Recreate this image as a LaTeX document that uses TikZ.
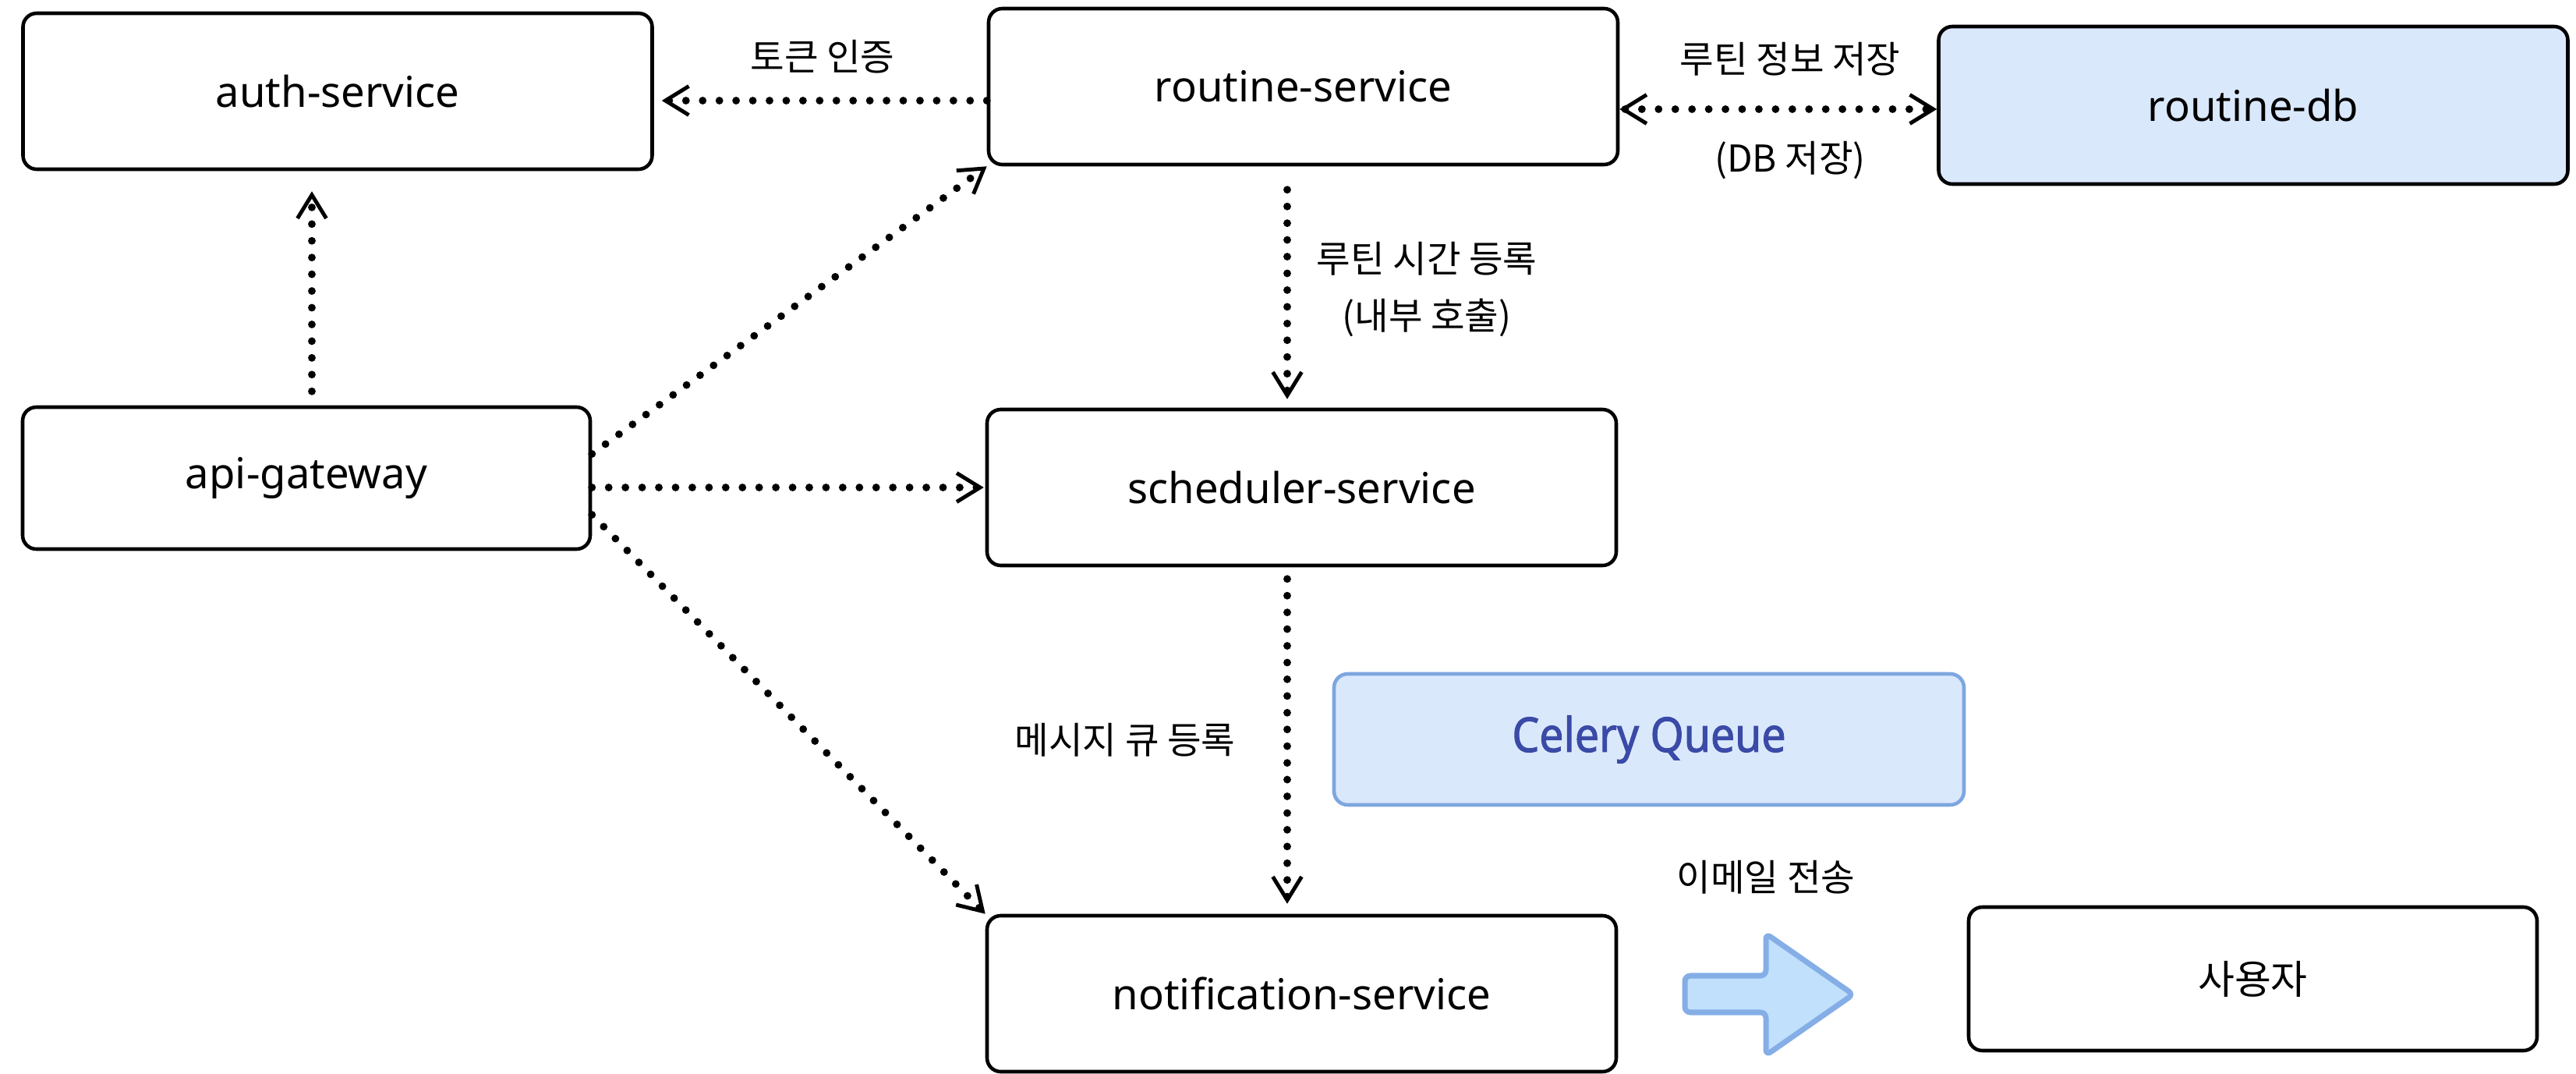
\documentclass[tikz,border=0pt]{standalone}
\usepackage{fontspec}
\setmainfont{Noto Sans}
\newfontfamily\kr{Noto Sans CJK KR}
\newfontfamily\queuefont[FakeStretch=0.9, FakeBold=1.6]{Noto Sans}
\usetikzlibrary{arrows.meta}

\definecolor{boxblue}{HTML}{DAE8FC}
\definecolor{queueline}{HTML}{7EA6E0}
\definecolor{queuetext}{HTML}{3A4AA6}
\definecolor{arrowfill}{HTML}{C0E0FC}
\definecolor{arrowline}{HTML}{85AEE6}

\tikzset{
  barb/.tip={Straight Barb[length=0.3cm,width=0.37cm,line width'=1.4pt]},
  svc/.style={draw=black, line width=1.3pt, rounded corners=5pt, fill=white,
    inner sep=0pt, minimum width=8.07cm, minimum height=2cm,
    font=\fontsize{15.5}{18}\selectfont},
  queuebox/.style={draw=queueline, line width=1.3pt, rounded corners=5pt,
    fill=boxblue, inner sep=0pt, minimum width=8.08cm, minimum height=1.68cm,
    text=queuetext, font=\queuefont\fontsize{17.5}{20}\selectfont},
  lbl/.style={inner sep=0pt, font=\kr\fontsize{13.5}{21}\selectfont},
  dots/.style={line width=2.8pt, line cap=round, dash pattern=on 0pt off 6.1pt},
  flow/.style={dots, -barb},
  flowboth/.style={dots, barb-barb},
}

\begin{document}
\begin{tikzpicture}
\useasboundingbox (0,0) rectangle (33.04,-13.77);

% services
\node[svc] (auth) at (4.33,-1.17) {auth-service};
\node[svc] (routine) at (16.715,-1.11) {routine-service};
\node[svc, fill=boxblue, minimum height=2.02cm] (db) at (28.90,-1.35) {routine-db};
\node[svc, minimum width=7.28cm, minimum height=1.82cm] (api) at (3.93,-6.13) {api-gateway};
\node[svc] (sched) at (16.695,-6.25) {scheduler-service};
\node[queuebox] (queue) at (21.15,-9.48) {Celery Queue};
\node[svc] (notif) at (16.695,-12.74) {notification-service};
\node[svc, minimum width=7.29cm, minimum height=1.84cm,
      font=\kr\fontsize{14.5}{17}\selectfont] (user) at (28.895,-12.55) {사용자};

% connector labels
\node[lbl] (ltoken) at (10.55,-0.73) {토큰 인증};
\node[lbl] (lsave) at (22.96,-0.76) {루틴 정보 저장};
\node[lbl] (ldb) at (22.96,-2.06) {(DB 저장)};
\node[lbl, align=center] (ltime) at (18.30,-3.71) {루틴 시간 등록\\(내부 호출)};
\node[lbl] (lqueue) at (14.43,-9.49) {메시지 큐 등록};
\node[lbl] (lmail) at (22.65,-11.25) {이메일 전송};

% connectors
\draw[flow, shorten >=0.1cm] (routine.west |- 0,-1.29) -- (auth.east |- 0,-1.29);
\draw[flowboth] (routine.east |- 0,-1.40) -- (db.west |- 0,-1.40);
\draw[flow, shorten <=0.18cm, shorten >=0.26cm] (api.north -| 4.0,0) -- (auth.south -| 4.0,0);
\draw[flow] (api.east |- 0,-5.82) -- (routine.south west);
\draw[flow, shorten >=0.02cm] (api.east |- sched.west) -- (sched.west);
\draw[flow] (api.east |- 0,-6.60) -- (notif.north west);
\draw[flow, shorten <=0.3cm, shorten >=0.11cm] (routine.south -| 16.51,0) -- (sched.north -| 16.51,0);
\draw[flow, shorten <=0.15cm, shorten >=0.13cm] (sched.south -| 16.51,0) -- (notif.north -| 16.51,0);

% block arrow towards the user
\draw[draw=arrowline, fill=arrowfill, line width=2pt, line join=round, rounded corners=2pt]
  (21.61,-12.51) -- (22.65,-12.51) -- (22.65,-11.97) -- (23.77,-12.75)
  -- (22.65,-13.53) -- (22.65,-12.98) -- (21.61,-12.98) -- cycle;
\end{tikzpicture}
\end{document}
